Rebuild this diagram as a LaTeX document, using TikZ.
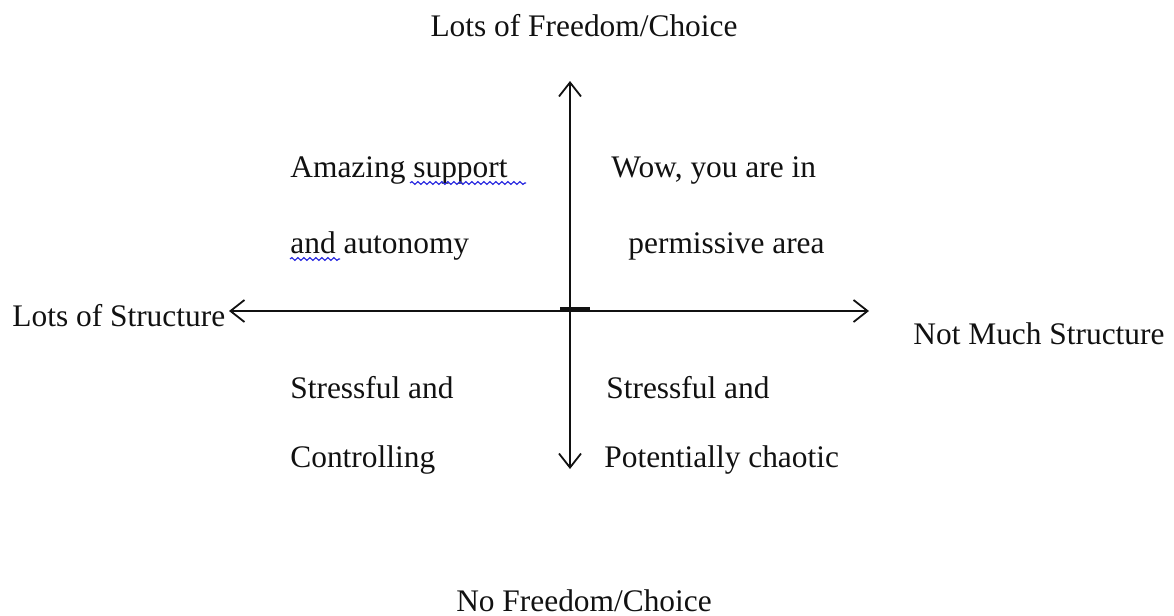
\documentclass[tikz,border=0pt]{standalone}
\usepackage{fontspec}
\setmainfont{Liberation Serif}
\usepackage{tikz}
\usetikzlibrary{arrows.meta,positioning,decorations.pathmorphing}
\definecolor{ink}{HTML}{111111}
\definecolor{spellblue}{HTML}{2B2BE0}
\tikzset{
  lbl/.style={inner sep=0pt,font=\fontsize{15.7}{19}\selectfont,text=ink},
  axisarr/.style={-{Straight Barb[length=7pt,width=11pt,line width=0.9pt]},
                  line width=1pt,draw=ink},
  squiggle/.style={draw=spellblue,line width=0.6pt,
                   decorate,decoration={snake,amplitude=0.7pt,segment length=3pt}}
}
\begin{document}
\begin{tikzpicture}[x=0.5pt,y=-0.5pt]
    \path[use as bounding box] (0,0) rectangle (1174,616);
    % axes
    \coordinate (ctr) at (570,304);
    \coordinate (up) at (570,81);
    \coordinate (down) at (570,469);
    \coordinate (hmid) at (570,311);
    \coordinate (left) at (229,311);
    \coordinate (right) at (869,311);
    \draw[axisarr] (ctr) -- (up);
    \draw[axisarr] (ctr) -- (down);
    \draw[axisarr] (hmid) -- (left);
    \draw[axisarr] (hmid) -- (right);
    \coordinate (tickl) at (560,309);
    \coordinate (tickr) at (590,309);
    \draw[line width=2.2pt,draw=ink] (tickl) -- (tickr);
    % axis labels
    \node[lbl] (free) at (584,26) {Lots of Freedom/Choice};
    \node[lbl] (nofree) at (584,601) {No Freedom/Choice};
    \node[lbl,anchor=west] (struct) at (12,316) {Lots of Structure};
    \node[lbl,anchor=west] (nostruct) at (913,334) {Not Much Structure};
    % quadrants
    \node[lbl,anchor=west] (amz) at (290,170) {Amazing support};
    \node[lbl,anchor=west] (auto) at (290,246) {and autonomy};
    \node[lbl,anchor=west] (wow) at (611,170) {Wow, you are in};
    \node[lbl,anchor=west] (perm) at (628,246) {permissive area};
    \node[lbl,anchor=west] (strl) at (290,388) {Stressful and};
    \node[lbl,anchor=west] (ctrl) at (290,460) {Controlling};
    \node[lbl,anchor=west] (strr) at (606,388) {Stressful and};
    \node[lbl,anchor=west] (chao) at (604,460) {Potentially chaotic};
    % spell marks
    \draw[squiggle] (410,183) -- (526,183);
    \draw[squiggle] (290,259) -- (340,259);
\end{tikzpicture}
\end{document}
